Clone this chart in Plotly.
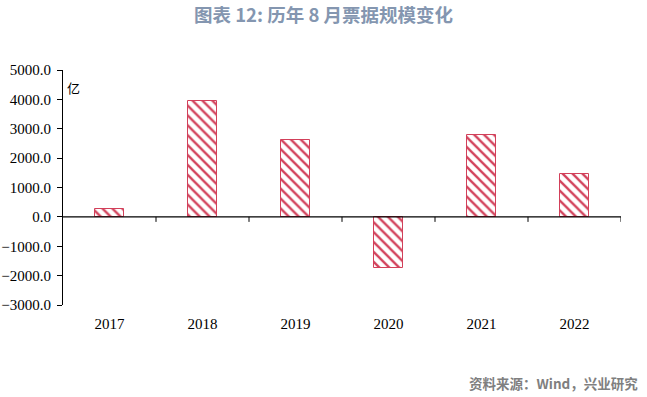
import plotly.graph_objects as go

years = ["2017", "2018", "2019", "2020", "2021", "2022"]
values = [260, 3940, 2610, -1750, 2800, 1460]
y_ticks = [-3000, -2000, -1000, 0, 1000, 2000, 3000, 4000, 5000]

red = "#D2405A"

fig = go.Figure()
fig.add_trace(go.Bar(
    x=years, y=values, width=0.32,
    marker=dict(color="white", line=dict(color=red, width=1),
                pattern=dict(shape="\\", fgcolor=red, bgcolor="white", fgopacity=1,
                             size=7, solidity=0.33)),
))

# tick marks on the zero line at category boundaries
for i in range(len(years)):
    fig.add_shape(type="line", xref="x", yref="y", x0=i + 0.5, x1=i + 0.5,
                  ysizemode="pixel", yanchor=0, y0=0, y1=-5,
                  line=dict(color="black", width=1))
fig.add_shape(type="line", xref="paper", yref="y", x0=0, x1=1, y0=0, y1=0,
              line=dict(color="black", width=1.3))

fig.update_layout(
    width=647, height=397,
    margin=dict(l=63, r=26, t=70, b=92),
    plot_bgcolor="white", paper_bgcolor="white",
    showlegend=False, bargap=0,
    title=dict(text="<b>图表 12: 历年 8 月票据规模变化</b>", x=0.5, xanchor="center",
               y=0.962, yanchor="middle",
               font=dict(family="Noto Sans CJK SC", size=18.5, color="#8496B0")),
    xaxis=dict(type="category", showline=False, ticks="", showgrid=False, automargin=False,
               ticklabelstandoff=8,
               tickfont=dict(family="Liberation Serif", size=15, color="black"),
               range=[-0.5, 5.5]),
    yaxis=dict(range=[-3000, 5000], tickvals=y_ticks, tickformat=".1f", automargin=False,
               showgrid=False, zeroline=False, showline=True, linecolor="black", linewidth=1,
               ticks="outside", ticklen=5, tickcolor="black", ticklabelstandoff=3,
               tickfont=dict(family="Liberation Serif", size=15, color="black")),
    annotations=[
        dict(text="亿", xref="paper", yref="paper", x=0.004, y=0.927, xanchor="left",
             yanchor="middle", showarrow=False,
             font=dict(family="Noto Sans CJK SC", size=13, color="black")),
        dict(text="<b>资料来源：Wind，兴业研究</b>", xref="paper", yref="paper",
             x=1.034, y=-0.33, xanchor="right", yanchor="middle", showarrow=False,
             font=dict(family="Noto Sans CJK SC", size=13.5, color="#7F7F7F")),
    ],
)

fig.write_html("out.html", config={"displayModeBar": False},
               post_script="document.body.style.margin='0';")
